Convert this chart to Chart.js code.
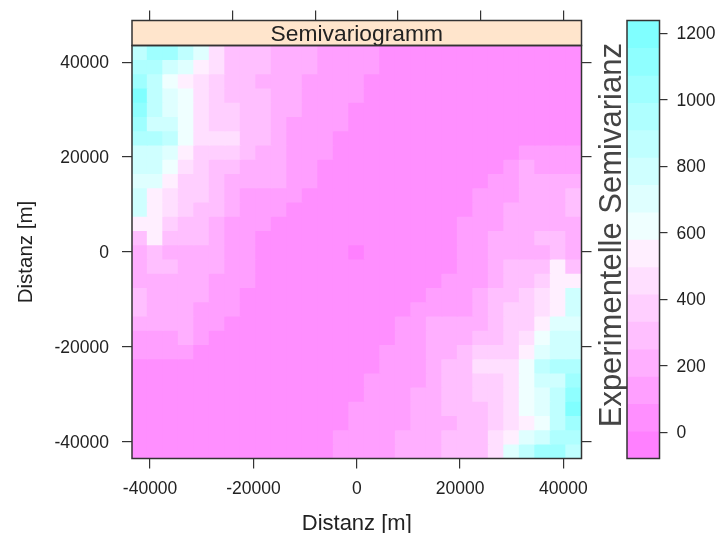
<!DOCTYPE html>
<html>
<head>
<meta charset="utf-8">
<style>
html,body{margin:0;padding:0;background:#fff;}
#wrap{position:relative;width:716px;height:533px;overflow:hidden;}
canvas{position:absolute;left:0;top:0;}
</style>
<script src="https://cdn.jsdelivr.net/npm/chart.js@4"></script>
</head>
<body>
<div id="wrap">
<canvas id="map" width="716" height="533"></canvas>
<canvas id="bar" width="716" height="533"></canvas>
</div>
<script>
const title = "Semivariogramm";
const xTitle = "Distanz [m]";
const yTitle = "Distanz [m]";
const legendTitle = " Experimentelle Semivarianz";
const axisTicks = [-40000,-20000,0,20000,40000];
const legendTicks = [0,200,400,600,800,1000,1200];
const xCenters = [-42000,-39000,-36000,-33000,-30000,-27000,-24000,-21000,-18000,-15000,-12000,-9000,-6000,-3000,0,3000,6000,9000,12000,15000,18000,21000,24000,27000,30000,33000,36000,39000,42000];
const yCenters = [42000,39000,36000,33000,30000,27000,24000,21000,18000,15000,12000,9000,6000,3000,0,-3000,-6000,-9000,-12000,-15000,-18000,-21000,-24000,-27000,-30000,-33000,-36000,-39000,-42000];
const levelBreaks = [-78,4,87,169,251,334,416,498,581,663,745,827,910,992,1074,1157,1239];
const levelColors = ["#FF80FF","#FF8FFF","#FF9FFF","#FFAFFF","#FFBFFF","#FFCFFF","#FFDFFF","#FFEFFF","#EFFFFF","#DFFFFF","#CFFFFF","#BFFFFF","#AFFFFF","#9FFFFF","#8FFFFF","#80FFFF"];

const row00 = [868,1033,1033,868,703,456,292,292,292,210,210,210,127,127,127,127,45,45,45,45,45,45,45,45,45,45,45,45,45];
const row01 = [950,950,786,703,539,456,292,292,292,210,210,210,127,127,127,127,45,45,45,45,45,45,45,45,45,45,45,45,45];
const row02 = [1033,868,621,539,456,374,292,292,210,210,210,127,127,127,127,45,45,45,45,45,45,45,45,45,45,45,45,45,45];
const row03 = [1197,868,703,621,456,374,292,292,292,210,210,127,127,127,127,45,45,45,45,45,45,45,45,45,45,45,45,45,45];
const row04 = [1115,868,703,621,456,374,374,292,292,210,210,127,127,127,45,45,45,45,45,45,45,45,45,45,45,45,45,45,45];
const row05 = [1033,786,786,621,456,374,374,292,292,210,127,127,127,127,45,45,45,45,45,45,45,45,45,45,45,45,45,45,45];
const row06 = [950,950,868,621,456,456,456,292,292,210,127,127,127,45,45,45,45,45,45,45,45,45,45,45,45,45,45,45,45];
const row07 = [786,786,703,539,374,374,374,292,210,210,127,127,127,45,45,45,45,45,45,45,45,45,45,45,45,127,127,127,127];
const row08 = [786,786,621,456,374,292,292,210,210,210,127,127,45,45,45,45,45,45,45,45,45,45,45,45,127,210,127,127,127];
const row09 = [703,703,539,374,374,292,210,210,210,210,127,127,45,45,45,45,45,45,45,45,45,45,45,127,127,210,210,210,210];
const row10 = [786,539,456,374,374,292,210,127,127,127,127,45,45,45,45,45,45,45,45,45,45,45,127,127,127,210,210,210,292];
const row11 = [786,539,456,374,292,292,210,127,127,127,45,45,45,45,45,45,45,45,45,45,45,45,127,127,210,210,210,210,292];
const row12 = [539,539,374,292,292,210,127,127,127,45,45,45,45,45,45,45,45,45,45,45,45,127,127,127,210,210,210,210,210];
const row13 = [292,539,292,292,292,210,127,127,45,45,45,45,45,45,45,45,45,45,45,45,45,127,127,210,210,210,292,292,210];
const row14 = [210,292,210,210,210,210,127,127,45,45,45,45,45,45,-37,45,45,45,45,45,45,127,127,210,210,210,210,292,210];
const row15 = [210,292,292,210,210,210,127,127,45,45,45,45,45,45,45,45,45,45,45,45,45,127,127,210,292,292,292,539,292];
const row16 = [210,210,210,210,210,127,127,127,45,45,45,45,45,45,45,45,45,45,45,45,127,127,127,210,292,292,374,539,539];
const row17 = [292,210,210,210,210,127,127,45,45,45,45,45,45,45,45,45,45,45,45,127,127,127,210,292,292,374,456,539,786];
const row18 = [292,210,210,210,127,127,127,45,45,45,45,45,45,45,45,45,45,45,127,127,127,127,210,292,374,374,456,539,786];
const row19 = [210,210,210,210,127,127,45,45,45,45,45,45,45,45,45,45,45,127,127,210,210,210,210,292,374,374,539,703,703];
const row20 = [127,127,127,210,127,45,45,45,45,45,45,45,45,45,45,45,45,127,127,210,210,210,292,292,374,456,621,786,786];
const row21 = [127,127,127,127,45,45,45,45,45,45,45,45,45,45,45,45,127,127,127,210,210,292,374,374,374,539,703,786,786];
const row22 = [45,45,45,45,45,45,45,45,45,45,45,45,45,45,45,45,127,127,127,210,292,292,456,456,456,621,868,950,950];
const row23 = [45,45,45,45,45,45,45,45,45,45,45,45,45,45,45,127,127,127,127,210,292,292,374,374,456,621,786,786,1033];
const row24 = [45,45,45,45,45,45,45,45,45,45,45,45,45,45,45,127,127,127,210,210,292,292,374,374,456,621,703,868,1115];
const row25 = [45,45,45,45,45,45,45,45,45,45,45,45,45,45,127,127,127,127,210,210,292,292,292,374,456,621,703,868,1197];
const row26 = [45,45,45,45,45,45,45,45,45,45,45,45,45,45,127,127,127,127,210,210,210,292,292,374,456,539,621,868,1033];
const row27 = [45,45,45,45,45,45,45,45,45,45,45,45,45,127,127,127,127,210,210,210,292,292,292,456,539,703,786,950,950];
const row28 = [45,45,45,45,45,45,45,45,45,45,45,45,45,127,127,127,127,210,210,210,292,292,292,456,703,868,1033,1033,868];
const rows = [row00,row01,row02,row03,row04,row05,row06,row07,row08,row09,row10,row11,row12,row13,row14,row15,row16,row17,row18,row19,row20,row21,row22,row23,row24,row25,row26,row27,row28];

const FONT = "'Liberation Sans', Arial, sans-serif";
const INK = "#222";
const LINE = "#333";
const TICK_SIZE = 17.5;
const CELL = 3000;
const X_MIN = -43500, X_MAX = 43500;

function colorFor(v){
  for(let i=0;i<levelColors.length;i++){ if(v<levelBreaks[i+1]) return levelColors[i]; }
  return levelColors[levelColors.length-1];
}
function fixedTicks(values){ return s => { s.ticks = values.map(v=>({value:v})); }; }
function fixedSize(dim,size){ return s => { s[dim]=size; }; }

const framePlugin = {
  id:'frame',
  afterDraw(chart){
    const c = chart.ctx, a = chart.chartArea;
    c.save();
    c.strokeStyle = LINE; c.lineWidth = 1.5;
    c.strokeRect(a.left,a.top,a.right-a.left,a.bottom-a.top);
    if(chart.scales.strip){
      const s = chart.scales.strip;
      c.strokeRect(a.left,s.top,a.right-a.left,s.bottom-s.top);
    }
    c.restore();
  }
};

const tickGrid = {drawOnChartArea:false,drawTicks:true,tickLength:10,color:LINE,lineWidth:1.2};

new Chart(document.getElementById('map'),{
  type:'bar',
  plugins:[framePlugin],
  data:{
    datasets: rows.map((row,r)=>({
      data: row.map((v,c)=>({x:xCenters[c], y:[yCenters[r]-CELL/2, yCenters[r]+CELL/2+120]})),
      backgroundColor: row.map(colorFor),
      borderWidth:0,
      barThickness:16.2,
      grouped:false
    }))
  },
  options:{
    responsive:false,animation:false,
    plugins:{legend:{display:false},tooltip:{enabled:false}},
    layout:{autoPadding:false,padding:{left:12,right:114.5,top:8.5,bottom:0}},
    scales:{
      x:{type:'linear',position:'bottom',min:X_MIN,max:X_MAX,offset:false,
        grid:Object.assign({offset:false},tickGrid),border:{display:false},
        afterBuildTicks:fixedTicks(axisTicks),afterFit:fixedSize('height',74.5),
        ticks:{autoSkip:false,maxRotation:0,padding:10,color:INK,font:{family:FONT,size:TICK_SIZE},callback:v=>String(v)},
        title:{display:true,text:xTitle,color:INK,padding:{top:0,bottom:-2},font:{family:FONT,size:22,lineHeight:1}}},
      y:{type:'linear',position:'left',min:X_MIN,max:X_MAX,
        grid:tickGrid,border:{display:false},
        afterBuildTicks:fixedTicks(axisTicks),afterFit:fixedSize('width',120),
        ticks:{autoSkip:false,padding:13,labelOffset:1,color:INK,font:{family:FONT,size:TICK_SIZE},callback:v=>String(v)},
        title:{display:true,text:yTitle,color:INK,padding:{top:4,bottom:0},font:{family:FONT,size:20.5,lineHeight:1}}},
      y2:{type:'linear',position:'right',min:X_MIN,max:X_MAX,
        grid:tickGrid,border:{display:false},
        afterBuildTicks:fixedTicks(axisTicks),afterFit:fixedSize('width',20),
        ticks:{display:false}},
      strip:{axis:'x',type:'linear',position:'top',weight:1,min:X_MIN,max:X_MAX,
        backgroundColor:'#FFE5CC',grid:{display:false,drawTicks:false},border:{display:false},
        afterFit:fixedSize('height',25),ticks:{display:false},
        title:{display:true,text:title,color:INK,padding:{top:2.5,bottom:0},font:{family:FONT,size:22.8,lineHeight:1}}},
      x2:{type:'linear',position:'top',weight:2,min:X_MIN,max:X_MAX,
        grid:tickGrid,border:{display:false},
        afterBuildTicks:fixedTicks(axisTicks),afterFit:fixedSize('height',12),
        ticks:{display:false}}
    }
  }
});

new Chart(document.getElementById('bar'),{
  type:'bar',
  plugins:[framePlugin],
  data:{
    labels:[''],
    datasets: levelColors.map((col,i)=>({
      data:[[levelBreaks[i], levelBreaks[i+1]+3]],
      backgroundColor:col,
      borderWidth:0,
      categoryPercentage:1,
      barPercentage:1,
      grouped:false
    })).reverse()
  },
  options:{
    responsive:false,animation:false,
    plugins:{legend:{display:false},tooltip:{enabled:false}},
    layout:{autoPadding:false,padding:{left:596.5,right:0,top:20.5,bottom:74.5}},
    scales:{
      x:{display:false},
      y:{type:'linear',position:'right',min:levelBreaks[0],max:levelBreaks[levelBreaks.length-1],
        grid:{drawOnChartArea:false,drawTicks:true,tickLength:8,color:LINE,lineWidth:1.2},border:{display:false},
        afterBuildTicks:fixedTicks(legendTicks),afterFit:fixedSize('width',56.5),
        ticks:{autoSkip:false,padding:9,labelOffset:1,color:INK,font:{family:FONT,size:TICK_SIZE},callback:v=>String(v)}},
      yLegend:{axis:'y',type:'linear',position:'left',min:levelBreaks[0],max:levelBreaks[levelBreaks.length-1],
        grid:{display:false,drawTicks:false},border:{display:false},
        afterFit:fixedSize('width',30.5),ticks:{display:false,z:1},
        title:{display:true,text:legendTitle,color:"#444",padding:0,font:{family:FONT,size:31,lineHeight:1}}}
    }
  }
});
</script>
</body>
</html>
